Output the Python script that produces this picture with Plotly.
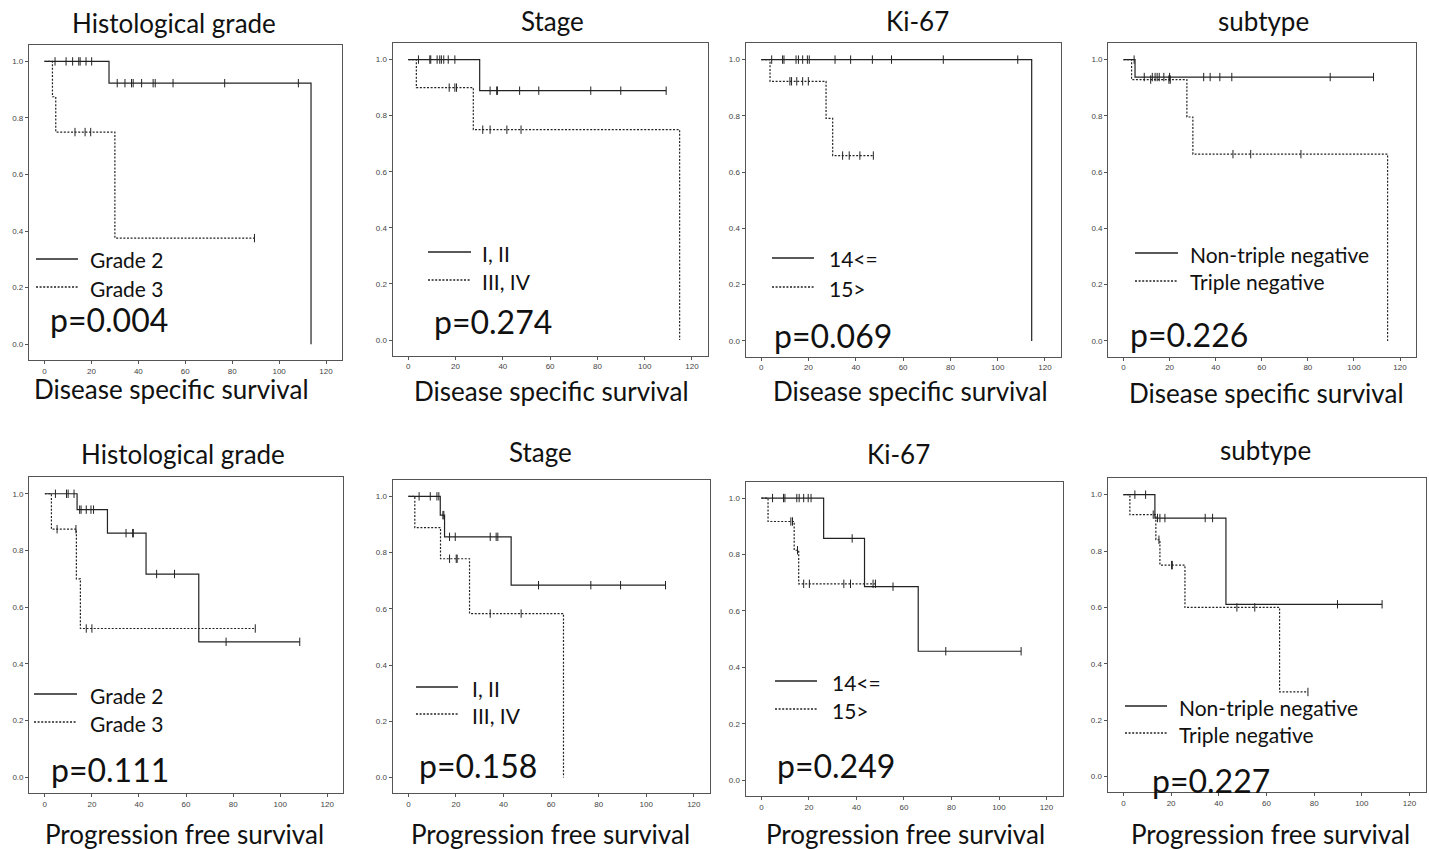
import bisect
import plotly.graph_objects as go

W, H = 1429, 849

# ---------------- data (time in months, survival proportion) ----------------
# Panel 1: Histological grade - Disease specific survival
p1_a_t = [0, 27.5, 113.6]
p1_a_s = [1.0, 0.923, 0.0]
p1_a_c = [4.5, 9.2, 12.0, 14.6, 15.2, 17.7, 20.1, 31.0, 34.3, 37.1, 37.8, 41.4, 46.3, 47.2, 54.8, 76.8, 108.2]
p1_b_t = [0, 3.4, 4.8, 30.0]
p1_b_s = [1.0, 0.875, 0.75, 0.375]
p1_b_c = [13.0, 17.3, 19.7, 89.5]

# Panel 2: Stage - Disease specific survival
p2_a_t = [0, 30.2]
p2_a_s = [1.0, 0.889]
p2_a_c = [4.3, 9.1, 9.5, 12.2, 13.3, 14.0, 15.0, 16.9, 19.7, 34.6, 37.4, 37.7, 47.1, 55.2, 77.2, 89.9, 109.1]
p2_b_t = [0, 3.4, 27.5, 114.8]
p2_b_s = [1.0, 0.9, 0.75, 0.0]
p2_b_c = [17.3, 19.7, 20.4, 31.5, 34.6, 41.7, 47.7]

# Panel 3: Ki-67 - Disease specific survival
p3_a_t = [0, 114.4]
p3_a_s = [1.0, 0.0]
p3_a_c = [4.4, 9.0, 9.6, 14.7, 15.7, 17.5, 19.5, 20.3, 31.2, 37.8, 47.0, 55.1, 77.0, 108.5]
p3_b_t = [0, 3.7, 27.4, 30.2]
p3_b_s = [1.0, 0.923, 0.791, 0.659]
p3_b_c = [12.1, 12.8, 15.0, 17.5, 19.9, 34.4, 37.2, 41.7, 47.4]

# Panel 4: subtype - Disease specific survival
p4_a_t = [0, 5.0]
p4_a_s = [1.0, 0.938]
p4_a_c = [4.6, 9.0, 12.5, 13.7, 14.6, 15.5, 17.5, 20.0, 34.8, 37.6, 41.8, 47.0, 89.7, 108.5]
p4_b_t = [0, 3.5, 27.5, 30.1, 114.6]
p4_b_s = [1.0, 0.929, 0.796, 0.664, 0.0]
p4_b_c = [11.8, 19.7, 20.3, 47.5, 55.2, 77.0]

# Panel 5: Histological grade - Progression free survival
p5_a_t = [0, 13.7, 26.6, 43.0, 65.4]
p5_a_s = [1.0, 0.944, 0.861, 0.717, 0.478]
p5_a_c = [4.5, 9.2, 9.9, 12.4, 14.8, 15.4, 17.6, 19.6, 20.7, 34.5, 37.3, 37.6, 47.5, 55.1, 77.0, 108.3]
p5_b_t = [0, 2.8, 13.4, 15.1]
p5_b_s = [1.0, 0.875, 0.70, 0.525]
p5_b_c = [5.2, 13.2, 17.6, 20.0, 89.4]

# Panel 6: Stage - Progression free survival
p6_a_t = [0, 13.4, 15.2, 43.2]
p6_a_s = [1.0, 0.933, 0.856, 0.684]
p6_a_c = [4.5, 9.2, 12.0, 12.8, 14.5, 14.9, 17.3, 19.7, 34.4, 36.9, 37.6, 54.7, 76.7, 89.2, 108.1]
p6_b_t = [0, 2.7, 13.5, 25.7, 65.2]
p6_b_s = [1.0, 0.889, 0.778, 0.583, 0.0]
p6_b_c = [17.3, 20.1, 20.5, 34.4, 47.4]

# Panel 7: Ki-67 - Progression free survival
p7_a_t = [0, 26.2, 43.4, 66.0]
p7_a_s = [1.0, 0.857, 0.686, 0.457]
p7_a_c = [4.7, 9.3, 9.9, 14.9, 15.9, 17.8, 19.7, 20.9, 38.2, 55.4, 77.6, 109.3]
p7_b_t = [0, 2.8, 13.8, 15.7]
p7_b_s = [1.0, 0.917, 0.815, 0.696]
p7_b_c = [12.4, 13.1, 15.2, 17.8, 20.2, 34.7, 37.5, 47.0, 48.0]

# Panel 8: subtype - Progression free survival
p8_a_t = [0, 13.2, 43.0]
p8_a_s = [1.0, 0.917, 0.611]
p8_a_c = [4.8, 9.3, 14.3, 15.3, 17.4, 34.3, 37.4, 89.8, 108.5]
p8_b_t = [0, 2.7, 13.6, 15.3, 25.8, 65.5]
p8_b_s = [1.0, 0.929, 0.84, 0.75, 0.6, 0.3]
p8_b_c = [12.5, 14.9, 20.2, 20.5, 47.6, 55.1, 77.4]

titles = ["Histological grade", "Stage", "Ki-67", "subtype",
          "Histological grade", "Stage", "Ki-67", "subtype"]
bottom_labels = ["Disease specific survival"] * 4 + ["Progression free survival"] * 4
group_labels = [("Grade 2", "Grade 3"), ("I, II", "III, IV"), ("14<=", "15>"),
                ("Non-triple negative", "Triple negative"),
                ("Grade 2", "Grade 3"), ("I, II", "III, IV"), ("14<=", "15>"),
                ("Non-triple negative", "Triple negative")]
p_values = ["p=0.004", "p=0.274", "p=0.069", "p=0.226",
            "p=0.111", "p=0.158", "p=0.249", "p=0.227"]
x_ticks = [0, 20, 40, 60, 80, 100, 120]
y_ticks = [0.0, 0.2, 0.4, 0.6, 0.8, 1.0]

curves = [
    ((p1_a_t, p1_a_s, p1_a_c), (p1_b_t, p1_b_s, p1_b_c)),
    ((p2_a_t, p2_a_s, p2_a_c), (p2_b_t, p2_b_s, p2_b_c)),
    ((p3_a_t, p3_a_s, p3_a_c), (p3_b_t, p3_b_s, p3_b_c)),
    ((p4_a_t, p4_a_s, p4_a_c), (p4_b_t, p4_b_s, p4_b_c)),
    ((p5_a_t, p5_a_s, p5_a_c), (p5_b_t, p5_b_s, p5_b_c)),
    ((p6_a_t, p6_a_s, p6_a_c), (p6_b_t, p6_b_s, p6_b_c)),
    ((p7_a_t, p7_a_s, p7_a_c), (p7_b_t, p7_b_s, p7_b_c)),
    ((p8_a_t, p8_a_s, p8_a_c), (p8_b_t, p8_b_s, p8_b_c)),
]

# ---------------- layout geometry (pixels) ----------------
boxes = [  # left, right, top, bottom
    (29, 342, 45, 360), (392.7, 708, 43.3, 355.7), (745.7, 1061, 43.3, 356.7), (1108.3, 1415.7, 43.3, 356.7),
    (29.3, 343.3, 477.3, 793.3), (392.7, 710, 480, 793.3), (745.7, 1062.7, 481.7, 796), (1107.7, 1425.7, 478.3, 792.3),
]
title_pos = [(173.5, 30.5), (552, 29), (917, 29), (1263, 29),
             (183, 462), (540, 460), (898, 462), (1265, 458)]
bottom_pos = [(171, 397), (551, 399), (910, 399), (1266, 401),
              (184, 842), (550, 842), (905, 842), (1270, 842)]
legend_pos = [  # line x0, line x1, y solid, y dotted, text x
    (36, 78, 259, 287, 88), (428, 471, 252, 280, 480), (772, 814, 258, 287, 827), (1135, 1178, 253, 281, 1188),
    (34, 77, 694, 722, 88), (416, 458, 687, 714, 470), (775, 817, 681, 709, 830), (1125, 1167, 706, 733, 1177),
]
pval_pos = [(48, 321), (432, 323), (772, 337.5), (1128, 336),
            (49, 771), (417, 767.5), (775, 767.5), (1150, 782)]

FONT = "Lato, 'Open Sans', sans-serif"
TICKFONT = dict(family="Liberation Sans, Arial, sans-serif", size=8, color="#444")
LINE_COL = "#222"
BOX_COL = "#555"
DOT = "2px,1.6px"
BIG = 26


def px(x):
    return x / W


def py(y):
    return 1 - y / H


def step_xy(t, s, c):
    xs, ys = list(t), list(s)
    end = max(max(t), max(c) if c else 0)
    if end > t[-1]:
        xs.append(end)
        ys.append(s[-1])
    return xs, ys


def surv_at(t, s, x):
    i = bisect.bisect_right(t, x) - 1
    return s[max(i, 0)]


fig = go.Figure()
layout = {}
annotations = []
shapes = []

for k in range(8):
    n = "" if k == 0 else str(k + 1)
    L, R, T, B = boxes[k]
    layout["xaxis" + n] = dict(
        domain=[px(L), px(R)], anchor="y" + n, range=[-6.6, 126.8],
        tickvals=x_ticks, ticks="outside", ticklen=3, tickwidth=1, tickcolor=BOX_COL,
        showline=True, mirror=True, linecolor=BOX_COL, linewidth=1.3,
        showgrid=False, zeroline=False, tickfont=TICKFONT, fixedrange=True,
    )
    layout["yaxis" + n] = dict(
        domain=[py(B), py(T)], anchor="x" + n, range=[-0.056, 1.058],
        tickvals=y_ticks, tickformat=".1f", ticks="outside", ticklen=3, tickwidth=1, tickcolor=BOX_COL,
        showline=True, mirror=True, linecolor=BOX_COL, linewidth=1.3,
        showgrid=False, zeroline=False, tickfont=TICKFONT, fixedrange=True,
    )
    for g, (t, s, c) in enumerate(curves[k]):
        xs, ys = step_xy(t, s, c)
        dash = "solid" if g == 0 else DOT
        fig.add_trace(go.Scatter(
            x=xs, y=ys, mode="lines", line=dict(color=LINE_COL, width=1.2, dash=dash, shape="hv"),
            xaxis="x" + n, yaxis="y" + n, showlegend=False, hoverinfo="skip",
        ))
        fig.add_trace(go.Scatter(
            x=c, y=[surv_at(t, s, v) for v in c], mode="markers",
            marker=dict(symbol="line-ns-open", size=6, color=LINE_COL, line=dict(width=1, color=LINE_COL)),
            xaxis="x" + n, yaxis="y" + n, showlegend=False, hoverinfo="skip",
        ))

    # titles and bottom labels
    tx, tb = title_pos[k]
    annotations.append(dict(text=titles[k], x=px(tx), y=py(tb - 0.3 * BIG), xref="paper", yref="paper",
                            xanchor="center", yanchor="middle", showarrow=False,
                            font=dict(family=FONT, size=BIG, color="#111")))
    bx, bb = bottom_pos[k]
    annotations.append(dict(text=bottom_labels[k], x=px(bx), y=py(bb - 0.3 * BIG), xref="paper", yref="paper",
                            xanchor="center", yanchor="middle", showarrow=False,
                            font=dict(family=FONT, size=BIG, color="#111")))
    # legend
    lx0, lx1, ys_, yd_, ltx = legend_pos[k]
    shapes.append(dict(type="line", xref="paper", yref="paper", x0=px(lx0), x1=px(lx1), y0=py(ys_), y1=py(ys_),
                       line=dict(color=LINE_COL, width=1.3)))
    shapes.append(dict(type="line", xref="paper", yref="paper", x0=px(lx0), x1=px(lx1), y0=py(yd_), y1=py(yd_),
                       line=dict(color=LINE_COL, width=1.3, dash=DOT)))
    for yy, lab in ((ys_, group_labels[k][0]), (yd_, group_labels[k][1])):
        annotations.append(dict(text=lab, x=px(ltx), y=py(yy + 1), xref="paper", yref="paper",
                                xanchor="left", yanchor="middle", showarrow=False,
                                font=dict(family=FONT, size=21, color="#111")))
    # p-value
    pxx, pyy = pval_pos[k]
    annotations.append(dict(text=p_values[k], x=px(pxx), y=py(pyy - 2), xref="paper", yref="paper",
                            xanchor="left", yanchor="middle", showarrow=False,
                            font=dict(family=FONT, size=32, color="#111")))

fig.update_layout(
    width=W, height=H, margin=dict(l=0, r=0, t=0, b=0),
    paper_bgcolor="white", plot_bgcolor="white",
    annotations=annotations, shapes=shapes, **layout,
)

fig.write_html("out.html", config={"displayModeBar": False},
               post_script="document.body.style.margin='0';document.body.style.overflow='hidden';")
